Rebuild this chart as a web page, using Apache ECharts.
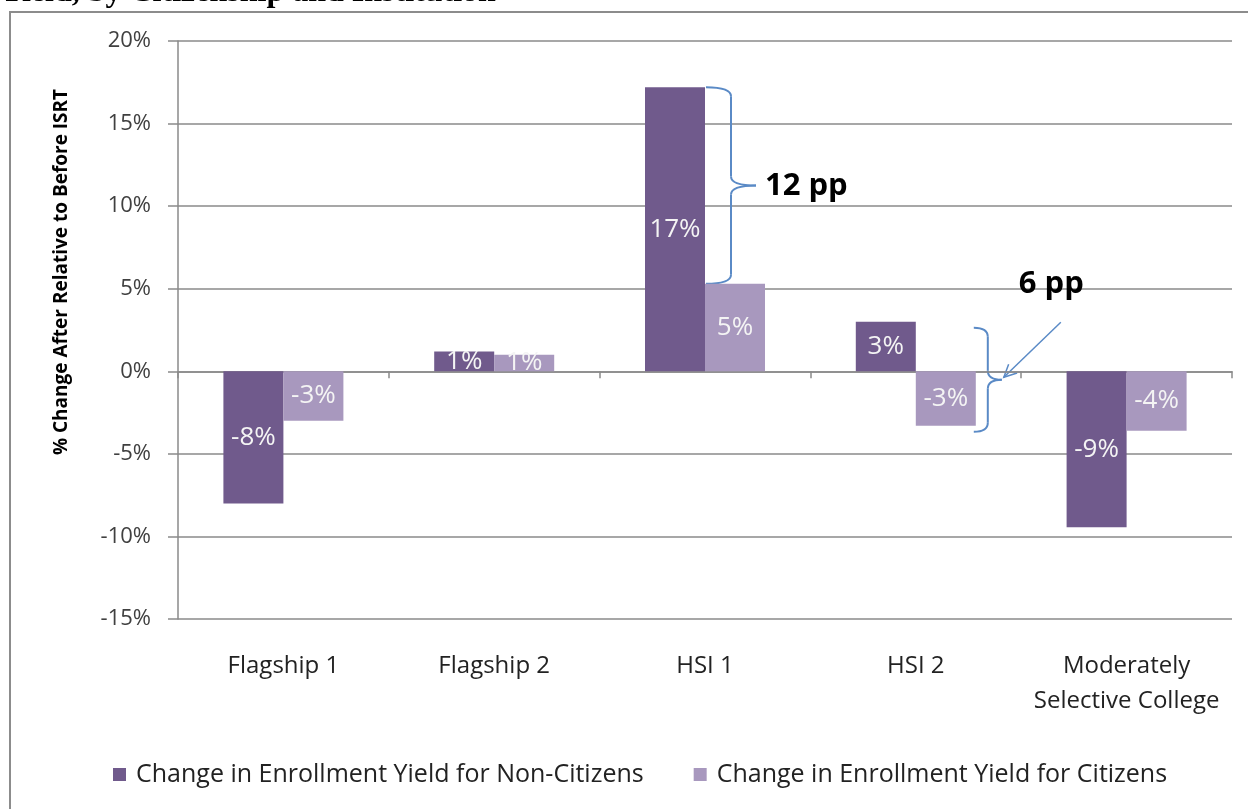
<!DOCTYPE html>
<html>
<head>
<meta charset="utf-8">
<script src="https://cdn.jsdelivr.net/npm/echarts@6/dist/echarts.min.js"></script>
<style>
  html, body { margin: 0; padding: 0; background: #fff; }
  #chart { width: 1248px; height: 809px; }
</style>
</head>
<body>
<div id="chart"></div>
<script>
const categories = ['Flagship 1', 'Flagship 2', 'HSI 1', 'HSI 2', 'Moderately\nSelective College']
const nonCitizens = [-8.0, 1.2, 17.2, 3.0, -9.45]
const citizens = [-3.0, 1.0, 5.3, -3.3, -3.6]
const seriesNames = ['Change in Enrollment Yield for Non-Citizens', 'Change in Enrollment Yield for Citizens']
const yTicks = { min: -15, max: 20, interval: 5 }

const FONT = '"Open Sans"'
const chart = echarts.init(document.getElementById('chart'))

const barLabel = {
  show: true,
  position: 'inside',
  color: '#f4f4f4',
  fontFamily: FONT,
  fontSize: 26,
  formatter: p => Math.round(p.value) + '%'
}

chart.setOption({
  animation: false,
  textStyle: { fontFamily: FONT },
  grid: { left: 178, right: 16, top: 41, bottom: 190 },
  legend: {
    left: 108,
    top: 757,
    itemWidth: 13,
    itemHeight: 13,
    itemGap: 50,
    icon: 'rect',
    textStyle: { fontSize: 25, color: '#222', fontFamily: FONT, padding: [0, 0, 0, 5] },
    data: seriesNames
  },
  xAxis: [
    {
      type: 'category',
      data: categories,
      position: 'bottom',
      axisLine: { show: false, onZero: false },
      axisTick: { show: false },
      axisLabel: { color: '#222', fontSize: 24, lineHeight: 35, margin: 30, interval: 0 }
    },
    {
      type: 'category',
      data: categories,
      position: 'top',
      axisLine: { show: true, onZero: true, lineStyle: { color: '#8a8a8a', width: 1.5 } },
      axisTick: { show: true, inside: true, length: 7, lineStyle: { color: '#8a8a8a', width: 1.5 } },
      axisLabel: { show: false }
    }
  ],
  yAxis: {
    type: 'value',
    min: yTicks.min,
    max: yTicks.max,
    interval: yTicks.interval,
    axisLine: { show: true, lineStyle: { color: '#8a8a8a', width: 1.5 } },
    axisTick: { show: true, length: 10, lineStyle: { color: '#8a8a8a', width: 1.5 } },
    axisLabel: { color: '#404040', fontSize: 22, margin: 27, formatter: '{value}%' },
    splitLine: { lineStyle: { color: '#8a8a8a', width: 1.5 } }
  },
  series: [
    {
      name: seriesNames[0],
      type: 'bar',
      data: nonCitizens,
      barWidth: 60,
      barGap: '0%',
      itemStyle: { color: '#705a8c' },
      label: barLabel
    },
    {
      name: seriesNames[1],
      type: 'bar',
      data: citizens,
      barWidth: 60,
      barGap: '0%',
      itemStyle: { color: '#a898be' },
      label: barLabel
    }
  ]
})

// annotations placed from the data through the axes
function px(catIdx, v) {
  return chart.convertToPixel({ gridIndex: 0 }, [catIdx, v])
}
const blue = '#5a8ac6'
const braceStyle = { fill: 'none', stroke: blue, lineWidth: 2 }

// curly brace opening to the left, tip pointing right
function brace(x, y1, y2, w, ym) {
  const xm = x + w / 2, xt = x + w, r = 9
  const q = (a, c, b) => ({
    type: 'bezierCurve',
    shape: { x1: a[0], y1: a[1], cpx1: c[0], cpy1: c[1], x2: b[0], y2: b[1] },
    style: braceStyle
  })
  const l = (a, b) => ({ type: 'line', shape: { x1: a[0], y1: a[1], x2: b[0], y2: b[1] }, style: braceStyle })
  return [
    q([x, y1], [xm, y1], [xm, y1 + r]),
    l([xm, y1 + r], [xm, ym - r]),
    q([xm, ym - r], [xm, ym], [xt, ym]),
    q([xt, ym], [xm, ym], [xm, ym + r]),
    l([xm, ym + r], [xm, y2 - r]),
    q([xm, y2 - r], [xm, y2], [x, y2])
  ]
}

const hsi1Top = px(2, nonCitizens[2])
const hsi1Low = px(2, citizens[2])
const hsi2Top = px(3, nonCitizens[3])
const hsi2Low = px(3, citizens[3])
const zero = px(3, 0)

const b1x = hsi1Top[0] + 1
const b1ym = (hsi1Top[1] + hsi1Low[1]) / 2
const b2x = hsi2Top[0] + 58
const b2y1 = hsi2Top[1] + 6
const b2y2 = hsi2Low[1] + 6
const b2ym = (b2y1 + b2y2) / 2

const arrowFrom = [hsi2Top[0] + 145, zero[1] - 49]
const arrowTo = [b2x + 30, zero[1] + 6]
const ang = Math.atan2(arrowTo[1] - arrowFrom[1], arrowTo[0] - arrowFrom[0])
const head = 14
const h1 = [arrowTo[0] - head * Math.cos(ang - 0.45), arrowTo[1] - head * Math.sin(ang - 0.45)]
const h2 = [arrowTo[0] - head * Math.cos(ang + 0.45), arrowTo[1] - head * Math.sin(ang + 0.45)]

chart.setOption({
  graphic: [
    {
      type: 'rect', silent: true, z: -1,
      shape: { x: 10, y: 12, width: 1400, height: 1000 },
      style: { fill: 'none', stroke: '#8c8c8c', lineWidth: 2 }
    },
    {
      type: 'text', x: 0, y: -23,
      style: { text: 'Yield, by Citizenship and Institution', font: 'bold 32px "Liberation Serif"', fill: '#000', verticalAlign: 'top' }
    },
    {
      type: 'text', x: 62, y: 272, rotation: Math.PI / 2,
      style: { text: '% Change After Relative to Before ISRT', font: 'bold 19px ' + FONT, fill: '#000', align: 'center', verticalAlign: 'middle' }
    },
    ...brace(b1x, hsi1Top[1], hsi1Low[1], 50, b1ym),
    {
      type: 'text', x: b1x + 59, y: b1ym + 1,
      style: { text: '12 pp', font: 'bold 31px ' + FONT, fill: '#000', verticalAlign: 'middle' }
    },
    ...brace(b2x, b2y1, b2y2, 28, b2ym),
    {
      type: 'line', shape: { x1: arrowFrom[0], y1: arrowFrom[1], x2: arrowTo[0], y2: arrowTo[1] },
      style: { stroke: blue, lineWidth: 1.5 }
    },
    {
      type: 'polyline', shape: { points: [h1, arrowTo, h2] },
      style: { fill: 'none', stroke: blue, lineWidth: 1.5 }
    },
    {
      type: 'text', x: b2x + 45, y: zero[1] - 87,
      style: { text: '6 pp', font: 'bold 31px ' + FONT, fill: '#000', verticalAlign: 'middle' }
    }
  ]
})
</script>
</body>
</html>
